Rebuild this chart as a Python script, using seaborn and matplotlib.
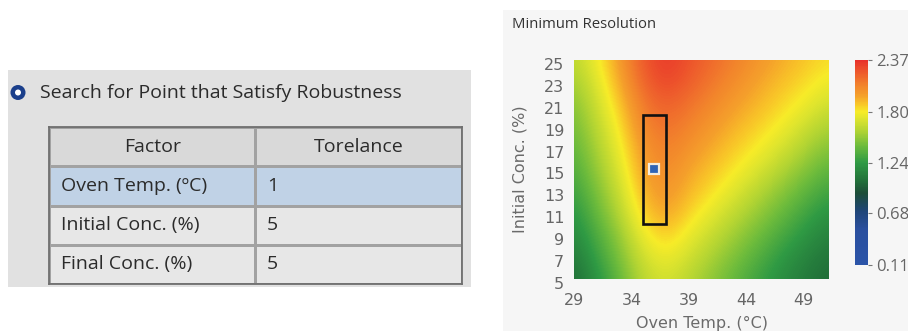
import numpy as np
import pandas as pd
import matplotlib
matplotlib.use("Agg")
import matplotlib.pyplot as plt
import matplotlib.transforms as mtransforms
from matplotlib.colors import LinearSegmentedColormap, ListedColormap
from matplotlib.patches import Rectangle, Circle
import seaborn as sns

# ---- robustness search settings (left table) ----
table_header = ["Factor", "Torelance"]
factors = ["Oven Temp. (ºC)", "Initial Conc. (%)", "Final Conc. (%)"]
tolerances = [1, 5, 5]
option_label = "Search for Point that Satisfy Robustness"

# ---- minimum resolution surface (right map) ----
oven_temp = [29, 31, 33, 35, 37, 39, 41, 43, 45, 47, 49, 51]
initial_conc = [25, 23, 21, 19, 17, 15, 13, 11, 9, 7, 5]
min_resolution = [
    [1.62, 1.77, 2.00, 2.24, 2.34, 2.26, 2.18, 2.10, 2.02, 1.95, 1.89, 1.83],
    [1.55, 1.72, 1.95, 2.20, 2.30, 2.22, 2.13, 2.05, 1.97, 1.90, 1.84, 1.77],
    [1.48, 1.67, 1.88, 2.13, 2.22, 2.15, 2.07, 1.99, 1.92, 1.85, 1.78, 1.68],
    [1.43, 1.62, 1.82, 2.08, 2.16, 2.09, 2.01, 1.93, 1.86, 1.79, 1.68, 1.58],
    [1.38, 1.57, 1.77, 2.02, 2.11, 2.03, 1.95, 1.87, 1.80, 1.70, 1.59, 1.48],
    [1.33, 1.52, 1.72, 1.98, 2.07, 1.97, 1.89, 1.81, 1.71, 1.60, 1.49, 1.38],
    [1.27, 1.46, 1.66, 1.93, 2.03, 1.92, 1.83, 1.72, 1.61, 1.50, 1.39, 1.29],
    [1.21, 1.40, 1.60, 1.86, 1.98, 1.85, 1.74, 1.63, 1.52, 1.41, 1.30, 1.20],
    [1.15, 1.33, 1.52, 1.77, 1.88, 1.76, 1.65, 1.54, 1.43, 1.32, 1.22, 1.12],
    [1.08, 1.27, 1.46, 1.68, 1.78, 1.68, 1.57, 1.46, 1.35, 1.24, 1.14, 1.06],
    [1.02, 1.20, 1.40, 1.62, 1.70, 1.61, 1.50, 1.39, 1.28, 1.18, 1.09, 1.02],
]
robust_temp = 36
robust_conc = 15
x_ticks = [29, 34, 39, 44, 49]
y_ticks = [5, 7, 9, 11, 13, 15, 17, 19, 21, 23, 25]
cbar_ticks = [0.11, 0.68, 1.24, 1.80, 2.37]
map_title = "Minimum Resolution"
x_label = "Oven Temp. (°C)"
y_label = "Initial Conc. (%)"

sns.set_theme(style="white")
plt.rcParams["font.family"] = ["DejaVu Sans"]

W, H = 908, 331
fig = plt.figure(figsize=(W / 100, H / 100), dpi=100)
fig.patch.set_facecolor("white")


def frac(x0, y0, x1, y1):
    """Pixel box (top-left origin) -> figure-fraction rect."""
    return [x0 / W, 1 - y1 / H, (x1 - x0) / W, (y1 - y0) / H]


# background canvas for the two panels
bg = fig.add_axes([0, 0, 1, 1], zorder=-5)
bg.set_xlim(0, W)
bg.set_ylim(H, 0)
bg.axis("off")
bg.add_patch(Rectangle((8, 70), 463, 217, facecolor="#e1e1e1", edgecolor="none"))
bg.add_patch(Rectangle((503, 10), W - 503, H - 10, facecolor="#f6f6f6", edgecolor="none"))

# radio button + option text
bg.add_patch(Circle((18, 92.5), 7.5, facecolor="#1b3f8b", edgecolor="none"))
bg.add_patch(Circle((18, 92.5), 3.0, facecolor="white", edgecolor="none"))
ui_font = dict(family="Open Sans", fontsize=14, color="#2b2b2b")
bg.text(40, 93, option_label, va="center", ha="left", **ui_font)

# ---- table drawn as a categorical heatmap of cell fills ----
tab_ax = fig.add_axes(frac(49, 127, 462, 284))
fill_codes = pd.DataFrame([[0, 0]] + [[1, 1]] + [[2, 2]] * (len(factors) - 1))
cell_cmap = ListedColormap(["#d9d9d9", "#c0d2e6", "#e7e7e7"])
sns.heatmap(fill_codes, ax=tab_ax, cmap=cell_cmap, vmin=-0.5, vmax=2.5, cbar=False,
            linewidths=1.0, linecolor="#a2a2a2", xticklabels=False, yticklabels=False)
for sp in tab_ax.spines.values():
    sp.set_visible(True)
    sp.set_color("#6f6f6f")
    sp.set_linewidth(1.3)
for c, head in enumerate(table_header):
    tab_ax.text(c + 0.5, 0.5, head, ha="center", va="center", **ui_font)
for r, (name, tol) in enumerate(zip(factors, tolerances), start=1):
    tab_ax.text(0.06, r + 0.5, name, ha="left", va="center", **ui_font)
    tab_ax.text(1.055, r + 0.5, str(tol), ha="left", va="center", **ui_font)

# ---- minimum resolution map ----
res_cmap = LinearSegmentedColormap.from_list("resolution", [
    (0.000, "#2b54a8"),
    (0.173, "#2a4f9e"),
    (0.261, "#1f4578"),
    (0.350, "#1d4d38"),
    (0.416, "#22733a"),
    (0.500, "#2f9a44"),
    (0.580, "#6cbb3c"),
    (0.655, "#b2d433"),
    (0.712, "#dde42e"),
    (0.748, "#f7ec28"),
    (0.783, "#f9c828"),
    (0.827, "#f5a02b"),
    (0.880, "#f2822c"),
    (0.940, "#ee5a2c"),
    (1.000, "#e8302b"),
])

ax = fig.add_axes(frac(574, 60, 829, 279))
ax.set_facecolor("#f6f6f6")
step_x = oven_temp[1] - oven_temp[0]
step_y = initial_conc[0] - initial_conc[1]
im = ax.imshow(np.array(min_resolution), cmap=res_cmap, vmin=cbar_ticks[0], vmax=cbar_ticks[-1],
               origin="upper", aspect="auto", interpolation="bicubic",
               interpolation_stage="data",
               extent=(oven_temp[0] - step_x / 2, oven_temp[-1] + step_x / 2,
                       initial_conc[-1] - step_y / 2, initial_conc[0] + step_y / 2))
ax.set_xlim(29, 51.2)
ax.set_ylim(5, 25)

# tolerance window around the robust point
temp_tol, conc_tol = tolerances[0], tolerances[1]
ax.add_patch(Rectangle((robust_temp - temp_tol, robust_conc - conc_tol), 2 * temp_tol,
                       2 * conc_tol, fill=False, edgecolor="#111111", linewidth=1.9))
ax.plot([robust_temp], [robust_conc], marker="s", markersize=6.5, color="#2f64b5",
        markeredgecolor="#f4ecdc", markeredgewidth=1.6)

ax.set_xticks(x_ticks)
ax.set_yticks(y_ticks)
ax.tick_params(length=0, labelsize=11.5, labelcolor="#666666")
ax.tick_params(axis="y", pad=7)
ax.tick_params(axis="x", pad=4)
for sp in ax.spines.values():
    sp.set_visible(False)
ax.set_xlabel(x_label, fontsize=11.5, color="#6a6a6a", labelpad=6)
ax.set_ylabel(y_label, fontsize=11.5, color="#6a6a6a", labelpad=12)
dy = mtransforms.ScaledTranslation(0, -4 / 100, fig.dpi_scale_trans)
for lab in ax.get_yticklabels():
    lab.set_transform(lab.get_transform() + dy)
dxy = mtransforms.ScaledTranslation(0, -8 / 100, fig.dpi_scale_trans)
for lab in ax.get_xticklabels():
    lab.set_transform(lab.get_transform() + dxy)

bg.text(512, 24, map_title, family="Open Sans", fontsize=10.7, color="#333333",
        ha="left", va="center")

# colour bar
cax = fig.add_axes(frac(855, 60, 868, 265))
cb = fig.colorbar(im, cax=cax, ticks=cbar_ticks)
cb.outline.set_visible(False)
cax.set_yticklabels([f"{t:.2f}" for t in cbar_ticks])
cax.tick_params(axis="y", length=3, width=0.8, color="#777777", pad=3,
                labelsize=12, labelcolor="#666666", right=True)
for lab in cax.get_yticklabels():
    lab.set_family("Open Sans")

fig.savefig("out.png", dpi=100, facecolor=fig.get_facecolor())
